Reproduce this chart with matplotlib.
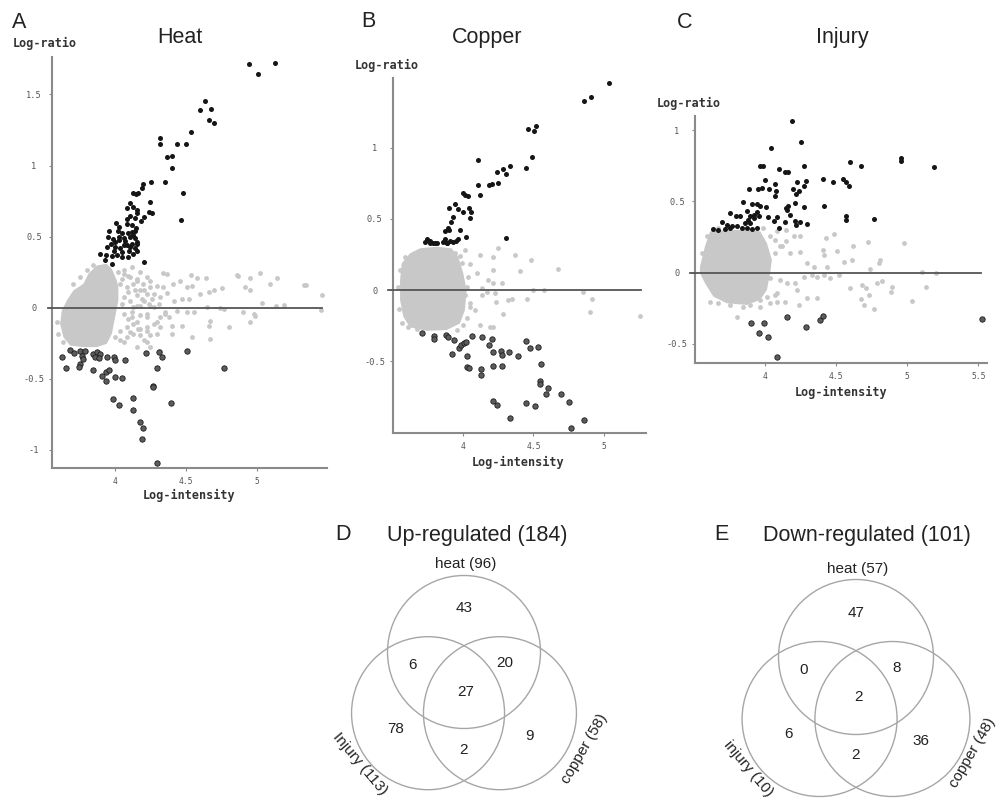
import matplotlib
matplotlib.use("Agg")
import matplotlib.pyplot as plt
from matplotlib.patches import Circle
import numpy as np

W, H = 997, 798

# ---------------- Heat (panel A) ----------------
heat_up_x = [4.939, 5.002, 5.127, 4.632, 4.596, 4.674, 4.662, 4.692, 4.533, 4.319,
             4.319, 4.437, 4.498, 4.401, 4.366, 4.397, 4.350, 4.479, 4.460, 4.249,
             4.242, 4.239, 4.258, 4.195, 4.188, 4.164, 4.148, 4.129, 4.200, 4.103,
             4.124, 4.157, 4.085, 4.153, 4.103, 4.139, 4.009, 4.028, 3.958, 4.080,
             4.117, 4.146, 4.143, 4.047, 4.089, 3.953, 3.988, 4.030, 4.063, 4.106,
             4.129, 4.139, 4.153, 3.942, 4.000, 4.063, 4.106, 4.035, 4.082, 4.117,
             4.153, 3.894, 3.937, 3.977, 4.012, 4.047, 4.094, 4.129, 4.153, 3.930,
             3.977, 4.206, 4.000, 4.070, 4.120, 4.020, 4.180, 3.990, 4.050, 4.100,
             4.140, 4.080, 3.970, 4.030]
heat_up_y = [1.716, 1.643, 1.725, 1.456, 1.390, 1.401, 1.322, 1.300, 1.235, 1.197,
             1.148, 1.148, 1.148, 1.070, 1.061, 0.981, 0.883, 0.805, 0.617, 0.887,
             0.746, 0.676, 0.664, 0.868, 0.840, 0.808, 0.798, 0.808, 0.639, 0.735,
             0.711, 0.688, 0.704, 0.669, 0.641, 0.629, 0.594, 0.570, 0.537, 0.589,
             0.584, 0.561, 0.542, 0.526, 0.526, 0.495, 0.481, 0.472, 0.491, 0.495,
             0.512, 0.488, 0.463, 0.425, 0.425, 0.437, 0.425, 0.420, 0.437, 0.449,
             0.444, 0.378, 0.371, 0.366, 0.373, 0.359, 0.354, 0.378, 0.401, 0.336,
             0.303, 0.322, 0.460, 0.470, 0.530, 0.540, 0.610, 0.400, 0.390, 0.400,
             0.420, 0.620, 0.450, 0.500]

heat_down_x = [3.629, 3.655, 3.683, 3.711, 3.754, 3.789, 3.765, 3.777, 3.754, 3.746,
               3.843, 3.871, 3.894, 3.859, 3.889, 3.942, 3.843, 3.906, 3.937, 3.960,
               3.993, 4.000, 4.066, 4.000, 4.049, 3.937, 3.984, 4.030, 4.125, 4.129,
               4.176, 4.195, 4.190, 4.291, 4.214, 4.291, 4.312, 4.329, 4.265, 4.265,
               4.392, 4.507, 4.765]
heat_down_y = [-0.347, -0.425, -0.298, -0.322, -0.303, -0.308, -0.338, -0.361, -0.397, -0.420,
               -0.326, -0.315, -0.326, -0.350, -0.354, -0.345, -0.437, -0.479, -0.455, -0.439,
               -0.350, -0.373, -0.373, -0.486, -0.495, -0.519, -0.643, -0.685, -0.636, -0.725,
               -0.803, -0.850, -0.927, -1.096, -0.322, -0.425, -0.315, -0.350, -0.554, -0.563,
               -0.671, -0.308, -0.425]

heat_bg_x = [4.338, 4.533, 4.575, 4.638, 4.857, 4.862, 4.946, 5.019, 5.087, 5.136,
             5.326, 5.340, 5.455, 5.451, 4.458, 4.406, 4.505, 4.540, 4.599, 4.657,
             4.692, 4.751, 4.364, 4.317, 4.258, 4.411, 4.469, 4.516, 4.915, 4.951,
             5.031, 5.134, 5.185, 4.739, 4.763, 4.646, 4.552, 4.505, 4.434, 4.352,
             4.376, 4.293, 4.223, 4.176, 4.317, 4.399, 4.399, 4.469, 4.540, 4.669,
             4.657, 4.798, 4.664, 4.899, 4.974, 4.986, 4.946, 4.317, 4.223, 4.129,
             4.106, 4.082, 4.035, 4.000, 4.176, 4.223, 4.270, 4.235, 4.200, 4.153,
             4.106, 4.059, 4.246, 4.293, 4.200, 4.153, 4.117, 4.059, 4.117, 4.176,
             4.223, 4.035, 4.082, 4.129, 4.176, 4.246, 4.059, 4.106, 4.153, 4.190,
             4.270, 4.059, 4.117, 4.176, 4.223, 4.082, 4.153, 4.223, 4.270, 4.129,
             4.200, 4.246, 4.294, 4.023, 4.087, 4.047, 4.153, 4.199, 4.094, 4.141,
             4.223, 4.047, 4.129, 4.176, 4.246, 4.305, 4.094, 4.164, 4.035, 4.059,
             4.153, 4.246, 4.317, 4.352, 4.340, 4.364, 3.589, 3.601, 3.636, 3.706,
             3.754, 3.801, 3.847]
heat_bg_y = [0.244, 0.230, 0.207, 0.207, 0.230, 0.221, 0.207, 0.244, 0.167, 0.209,
             0.160, 0.160, 0.089, -0.019, 0.190, 0.167, 0.143, 0.155, 0.096, 0.108,
             0.120, 0.136, 0.101, 0.073, 0.061, 0.049, 0.061, 0.061, 0.143, 0.120,
             0.033, 0.014, 0.021, -0.005, -0.009, 0.002, -0.033, -0.033, -0.021, -0.033,
             -0.068, -0.103, -0.139, -0.150, -0.139, -0.127, -0.185, -0.127, -0.209, -0.092,
             -0.127, -0.139, -0.225, -0.033, -0.049, -0.063, -0.103, -0.068, -0.068, -0.115,
             -0.174, -0.209, -0.232, -0.209, -0.197, -0.244, 0.002, 0.026, 0.120, 0.190,
             0.214, 0.237, 0.190, 0.155, 0.049, 0.014, -0.033, 0.261, 0.284, 0.249,
             0.214, 0.167, 0.143, 0.167, 0.120, 0.143, 0.073, 0.049, 0.085, 0.060,
             0.096, -0.044, -0.068, -0.056, -0.044, -0.139, -0.103, -0.162, -0.115, -0.185,
             -0.232, -0.197, -0.185, 0.249, 0.225, 0.202, 0.202, 0.167, 0.108, 0.120,
             0.096, 0.026, 0.002, 0.014, 0.014, 0.026, -0.080, -0.150, -0.162, -0.244,
             -0.279, -0.279, -0.303, -0.044, 0.143, 0.237, -0.103, -0.185, -0.244, 0.167,
             0.214, 0.261, 0.296]

heat_core_x = [3.812, 3.871, 3.941, 3.977, 4.012, 4.023, 4.023, 4.000, 3.977, 3.941,
               3.871, 3.777, 3.683, 3.636, 3.613, 3.625, 3.660, 3.706, 3.777]
heat_core_y = [0.237, 0.296, 0.308, 0.272, 0.190, 0.143, 0.049, -0.068, -0.185, -0.256,
               -0.279, -0.279, -0.268, -0.209, -0.115, -0.021, 0.049, 0.120, 0.167]

# ---------------- Copper (panel B) ----------------
copper_up_x = [5.035, 4.856, 4.904, 4.461, 4.504, 4.515, 4.489, 4.449, 4.336, 4.306,
               4.282, 4.245, 4.108, 4.108, 4.120, 4.252, 4.205, 4.188, 4.005, 4.016,
               4.035, 3.906, 3.948, 3.965, 4.000, 4.047, 4.059, 4.054, 3.934, 3.915,
               3.899, 3.875, 3.906, 3.981, 4.024, 3.965, 3.953, 3.746, 3.769, 3.793,
               3.816, 3.875, 3.887, 3.911, 4.304, 3.734, 3.769, 3.804, 3.863, 3.887,
               3.934]
copper_up_y = [1.452, 1.328, 1.358, 1.129, 1.117, 1.152, 0.934, 0.857, 0.871, 0.815,
               0.852, 0.827, 0.916, 0.735, 0.667, 0.754, 0.747, 0.738, 0.679, 0.667,
               0.660, 0.578, 0.604, 0.571, 0.548, 0.574, 0.546, 0.503, 0.515, 0.480,
               0.433, 0.417, 0.422, 0.422, 0.370, 0.356, 0.347, 0.356, 0.347, 0.333,
               0.328, 0.356, 0.333, 0.347, 0.363, 0.340, 0.328, 0.333, 0.340, 0.328,
               0.340]

copper_down_x = [3.713, 3.800, 3.800, 3.882, 3.899, 3.939, 3.925, 3.976, 3.988, 4.012,
                 4.024, 4.066, 4.136, 4.207, 4.188, 4.033, 4.033, 4.047, 4.132, 4.132,
                 4.212, 4.212, 4.273, 4.278, 4.278, 4.325, 4.391, 4.216, 4.242, 4.332,
                 4.449, 4.475, 4.532, 4.553, 4.548, 4.548, 4.602, 4.591, 4.696, 4.748,
                 4.449, 4.508, 4.762, 4.856]
copper_down_y = [-0.304, -0.321, -0.342, -0.316, -0.328, -0.347, -0.450, -0.410, -0.386, -0.375,
                 -0.363, -0.321, -0.328, -0.344, -0.386, -0.461, -0.539, -0.546, -0.555, -0.593,
                 -0.438, -0.534, -0.426, -0.457, -0.534, -0.438, -0.466, -0.778, -0.808, -0.897,
                 -0.361, -0.410, -0.403, -0.520, -0.637, -0.660, -0.684, -0.726, -0.731, -0.787,
                 -0.796, -0.813, -0.967, -0.909]

copper_bg_x = [4.122, 4.216, 4.216, 4.252, 4.369, 4.405, 4.482, 4.675, 3.981, 4.052,
               4.099, 4.181, 4.216, 4.275, 4.169, 4.134, 4.228, 4.233, 4.322, 4.346,
               4.452, 4.499, 4.576, 4.847, 4.911, 4.896, 5.256, 4.287, 4.193, 4.216,
               4.122, 4.087, 4.052, 4.016, 4.028, 4.134, 3.551, 3.593, 3.558, 3.546,
               3.569, 3.616, 3.675, 3.958, 4.005, 4.028, 4.052, 4.040, 3.993, 3.946,
               4.016]
copper_bg_y = [0.246, 0.234, 0.141, 0.293, 0.246, 0.133, 0.211, 0.148, 0.241, 0.180,
               0.117, 0.070, 0.052, 0.047, -0.012, -0.035, -0.023, -0.087, -0.070, -0.066,
               -0.066, 0.000, 0.000, -0.012, -0.063, -0.157, -0.180, -0.169, -0.262, -0.262,
               -0.246, -0.141, -0.117, -0.035, 0.023, 0.012, -0.136, 0.234, 0.141, 0.023,
               -0.234, -0.262, -0.276, -0.281, -0.246, -0.199, -0.094, 0.094, 0.187, 0.258,
               0.281]

copper_core_x = [3.569, 3.628, 3.699, 3.816, 3.922, 3.969, 4.005, 4.028, 4.016, 3.981,
                 3.887, 3.746, 3.628, 3.581, 3.558, 3.558]
copper_core_y = [0.187, 0.258, 0.293, 0.304, 0.293, 0.234, 0.117, 0.000, -0.141, -0.234,
                 -0.281, -0.286, -0.262, -0.187, -0.070, 0.070]

# ---------------- Injury (panel C) ----------------
injury_up_x = [4.191, 4.249, 4.042, 3.960, 3.988, 4.273, 4.099, 4.136, 4.160, 4.598,
               4.673, 4.955, 4.955, 5.186, 4.407, 4.478, 4.548, 4.569, 4.588, 3.998,
               3.979, 4.024, 4.071, 4.078, 4.071, 3.889, 3.948, 4.224, 4.195, 4.235,
               4.216, 4.289, 4.275, 3.845, 3.906, 3.941, 3.965, 4.005, 3.941, 3.918,
               3.894, 3.953, 3.871, 3.824, 4.146, 4.160, 4.153, 4.172, 4.212, 4.275,
               4.412, 4.765, 4.567, 4.567, 3.753, 3.795, 3.694, 3.729, 3.765, 4.019,
               4.059, 4.080, 4.136, 4.094, 4.209, 4.216, 4.242, 4.294, 3.635, 3.671,
               3.718, 3.753, 3.800, 3.835, 3.871, 3.906, 3.941, 3.859, 3.882, 3.894,
               3.918]
injury_up_y = [1.068, 0.915, 0.873, 0.751, 0.751, 0.751, 0.728, 0.709, 0.709, 0.775,
               0.751, 0.805, 0.782, 0.742, 0.657, 0.634, 0.657, 0.634, 0.610, 0.653,
               0.594, 0.587, 0.622, 0.570, 0.535, 0.587, 0.587, 0.634, 0.587, 0.575,
               0.552, 0.646, 0.610, 0.493, 0.484, 0.484, 0.469, 0.460, 0.425, 0.406,
               0.394, 0.394, 0.430, 0.399, 0.453, 0.469, 0.437, 0.406, 0.488, 0.458,
               0.465, 0.378, 0.394, 0.371, 0.418, 0.394, 0.352, 0.336, 0.324, 0.390,
               0.359, 0.390, 0.352, 0.312, 0.359, 0.336, 0.352, 0.340, 0.305, 0.300,
               0.308, 0.312, 0.324, 0.312, 0.312, 0.305, 0.312, 0.347, 0.371, 0.347,
               0.383]

injury_down_x = [3.901, 3.995, 3.955, 4.019, 4.082, 4.153, 4.285, 4.384, 4.405, 5.527]
injury_down_y = [-0.352, -0.352, -0.427, -0.455, -0.596, -0.310, -0.383, -0.333, -0.305, -0.329]

injury_bg_x = [4.482, 4.431, 4.621, 4.725, 4.979, 4.144, 4.200, 4.242, 4.148, 4.120,
               4.176, 4.247, 4.294, 4.407, 4.412, 4.506, 4.553, 4.612, 4.741, 4.807,
               4.800, 4.341, 4.435, 5.106, 5.200, 4.035, 4.106, 4.153, 4.212, 4.271,
               4.329, 4.365, 4.412, 4.459, 4.518, 4.600, 4.682, 4.706, 4.788, 4.824,
               4.894, 4.882, 4.729, 4.671, 4.694, 4.765, 5.035, 5.129, 4.224, 4.294,
               4.365, 4.235, 4.141, 4.082, 4.071, 3.800, 3.847, 3.894, 3.965, 4.012,
               3.929, 4.082, 4.071, 4.106, 3.553, 3.588, 3.671, 3.988, 4.035, 4.071,
               3.612, 3.671, 3.753, 3.965, 4.035, 4.082]
injury_bg_y = [0.272, 0.242, 0.188, 0.214, 0.209, 0.296, 0.254, 0.258, 0.223, 0.183,
               0.136, 0.141, 0.070, 0.160, 0.124, 0.148, 0.077, 0.089, 0.026, 0.089,
               0.066, 0.042, 0.042, 0.007, -0.005, -0.040, -0.052, -0.075, -0.075, -0.028,
               -0.016, -0.028, -0.016, -0.040, -0.016, -0.110, -0.087, -0.110, -0.075, -0.063,
               -0.099, -0.134, -0.157, -0.188, -0.228, -0.258, -0.200, -0.099, -0.122, -0.181,
               -0.181, -0.228, -0.204, -0.204, -0.157, -0.310, -0.239, -0.228, -0.192, -0.169,
               -0.157, 0.289, 0.230, 0.183, 0.136, 0.254, 0.312, 0.312, 0.254, 0.136,
               -0.204, -0.216, -0.228, -0.239, -0.216, -0.146]

injury_core_x = [3.541, 3.576, 3.612, 3.729, 3.871, 3.965, 4.012, 4.047, 4.035, 4.012,
                 3.965, 3.871, 3.729, 3.635, 3.576, 3.541]
injury_core_y = [0.042, 0.183, 0.289, 0.300, 0.300, 0.289, 0.207, 0.089, -0.005, -0.122,
                 -0.192, -0.228, -0.216, -0.169, -0.075, -0.005]

# ---------------- Venn counts ----------------
# order: heat only, heat&injury, heat&copper, all three, injury only, injury&copper, copper only
up_counts = [43, 6, 20, 27, 78, 2, 9]
down_counts = [47, 0, 8, 2, 6, 2, 36]
up_sets = ["heat (96)", "Injury (113)", "copper (58)"]
down_sets = ["heat (57)", "injury (10)", "copper (48)"]

GRAY = "#c8c8c8"
UP_C = "#151515"
DOWN_FACE = "#5c5c5c"
DOWN_EDGE = "#1c1c1c"
MONO = "DejaVu Sans Mono"
SANS = "Liberation Sans"

fig = plt.figure(figsize=(W / 100, H / 100), dpi=100)


def px_axes(x0, y0, x1, y1):
    # pixel box (left, top, right, bottom) -> figure axes
    return fig.add_axes([x0 / W, 1 - y1 / H, (x1 - x0) / W, (y1 - y0) / H])


def ma_panel(ax, xlim, ylim, xticks, yticks, up, down, bg, core, zero_ext):
    ax.fill(core[0], core[1], color=GRAY, lw=0, zorder=1)
    ax.scatter(bg[0], bg[1], s=12, c=GRAY, lw=0, zorder=2)
    ax.plot(zero_ext, [0, 0], color="#555555", lw=1.3, zorder=3, clip_on=False)
    ax.scatter(down[0], down[1], s=15, c=DOWN_FACE, edgecolors=DOWN_EDGE,
               linewidths=0.6, zorder=4)
    ax.scatter(up[0], up[1], s=13, c=UP_C, lw=0, zorder=5)
    ax.set_xlim(*xlim)
    ax.set_ylim(*ylim)
    ax.set_xticks(xticks)
    ax.set_yticks(yticks)
    ax.set_xticklabels([f"{t:g}" for t in xticks])
    ax.set_yticklabels([f"{t:g}" for t in yticks])
    for s in ("top", "right"):
        ax.spines[s].set_visible(False)
    for s in ("left", "bottom"):
        ax.spines[s].set_color("#8a8a8a")
        ax.spines[s].set_linewidth(1.5)
    ax.tick_params(direction="out", length=2.5, width=0.8, color="#8a8a8a",
                   labelcolor="#555555")
    ax.tick_params(axis="y", pad=10.5, labelsize=6.2)
    ax.tick_params(axis="x", pad=4, labelsize=5.8)
    for lab in ax.get_yticklabels() + ax.get_xticklabels():
        lab.set_fontfamily(MONO)
    for lab in ax.get_yticklabels():
        lab.set_horizontalalignment("center")
    ax.patch.set_alpha(0)


axA = px_axes(52, 57, 327, 468)
ma_panel(axA, (3.556, 5.49), (-1.13, 1.764), [4, 4.5, 5], [-1, -0.5, 0, 0.5, 1, 1.5],
         (heat_up_x, heat_up_y), (heat_down_x, heat_down_y),
         (heat_bg_x, heat_bg_y), (heat_core_x, heat_core_y), [3.53, 5.458])

axB = px_axes(392.7, 78.3, 646, 432.7)
ma_panel(axB, (3.506, 5.295), (-1.001, 1.486), [4, 4.5, 5], [-0.5, 0, 0.5, 1],
         (copper_up_x, copper_up_y), (copper_down_x, copper_down_y),
         (copper_bg_x, copper_bg_y), (copper_core_x, copper_core_y), [3.473, 5.26])

axC = px_axes(695, 116, 986.7, 363.3)
ma_panel(axC, (3.506, 5.559), (-0.638, 1.10), [4, 4.5, 5, 5.5], [-0.5, 0, 0.5, 1],
         (injury_up_x, injury_up_y), (injury_down_x, injury_down_y),
         (injury_bg_x, injury_bg_y), (injury_core_x, injury_core_y), [3.47, 5.52])

# overlay in pixel coordinates for titles, axis names and the Venn diagrams
ov = fig.add_axes([0, 0, 1, 1])
ov.set_xlim(0, W)
ov.set_ylim(H, 0)
ov.axis("off")
ov.patch.set_alpha(0)


def sans(x, y, s, size=15.5, **kw):
    kw.setdefault("ha", "center")
    kw.setdefault("va", "baseline")
    ov.text(x, y, s, fontsize=size, family=SANS, color="#222222", **kw)


def mono(x, y, s, **kw):
    kw.setdefault("va", "baseline")
    ov.text(x, y, s, fontsize=8.5, family=MONO, weight="bold", color="#333333", **kw)


# panel letters and titles
sans(19, 28.3, "A")
sans(180, 43.3, "Heat")
sans(368, 26.7, "B")
sans(487.5, 42.7, "Copper")
sans(685, 28.3, "C")
sans(842.5, 43.3, "Injury")

mono(13, 47.5, "Log-ratio", ha="left")
mono(189, 499, "Log-intensity", ha="center")
mono(355, 69.3, "Log-ratio", ha="left")
mono(518.3, 465.7, "Log-intensity", ha="center")
mono(657, 106.7, "Log-ratio", ha="left")
mono(840.8, 396, "Log-intensity", ha="center")

# label positions relative to the top circle centre
count_offsets = [(0, -44), (-52, 13), (41, 11), (2, 40), (-68, 77), (-1, 98), (65, 84)]


def venn(cx, cy, r, counts, names, letter, title, letter_dx, title_dx, low_lab, right_lab):
    centers = [(cx, cy), (cx - 0.47 * r, cy + 0.8 * r), (cx + 0.47 * r, cy + 0.8 * r)]
    for c in centers:
        ov.add_patch(Circle(c, r, fill=False, ec="#a6a6a6", lw=1.0))
    for n, (dx, dy) in zip(counts, count_offsets):
        ov.text(cx + dx, cy + dy, str(n), ha="center", va="center",
                fontsize=11, family=SANS, color="#222222")
    ov.text(cx + 2, cy - 84, names[0], ha="center", va="baseline",
            fontsize=11, family=SANS, color="#222222")
    ov.text(low_lab[0], low_lab[1], names[1], rotation=-50, rotation_mode="anchor",
            ha="center", va="center", fontsize=11, family=SANS, color="#222222")
    ov.text(right_lab[0], right_lab[1], names[2], rotation=60, rotation_mode="anchor",
            ha="center", va="center", fontsize=11, family=SANS, color="#222222")
    sans(cx + letter_dx, 540.5, letter)
    sans(cx + title_dx, 540.5, title)


venn(464, 652, 76.5, up_counts, up_sets, "D", "Up-regulated (184)", -121, 13,
     (360, 764), (584, 749))
venn(856, 657, 77.5, down_counts, down_sets, "E", "Down-regulated (101)", -135, 11,
     (748, 769), (972, 753))

fig.savefig("out.png", dpi=100)
